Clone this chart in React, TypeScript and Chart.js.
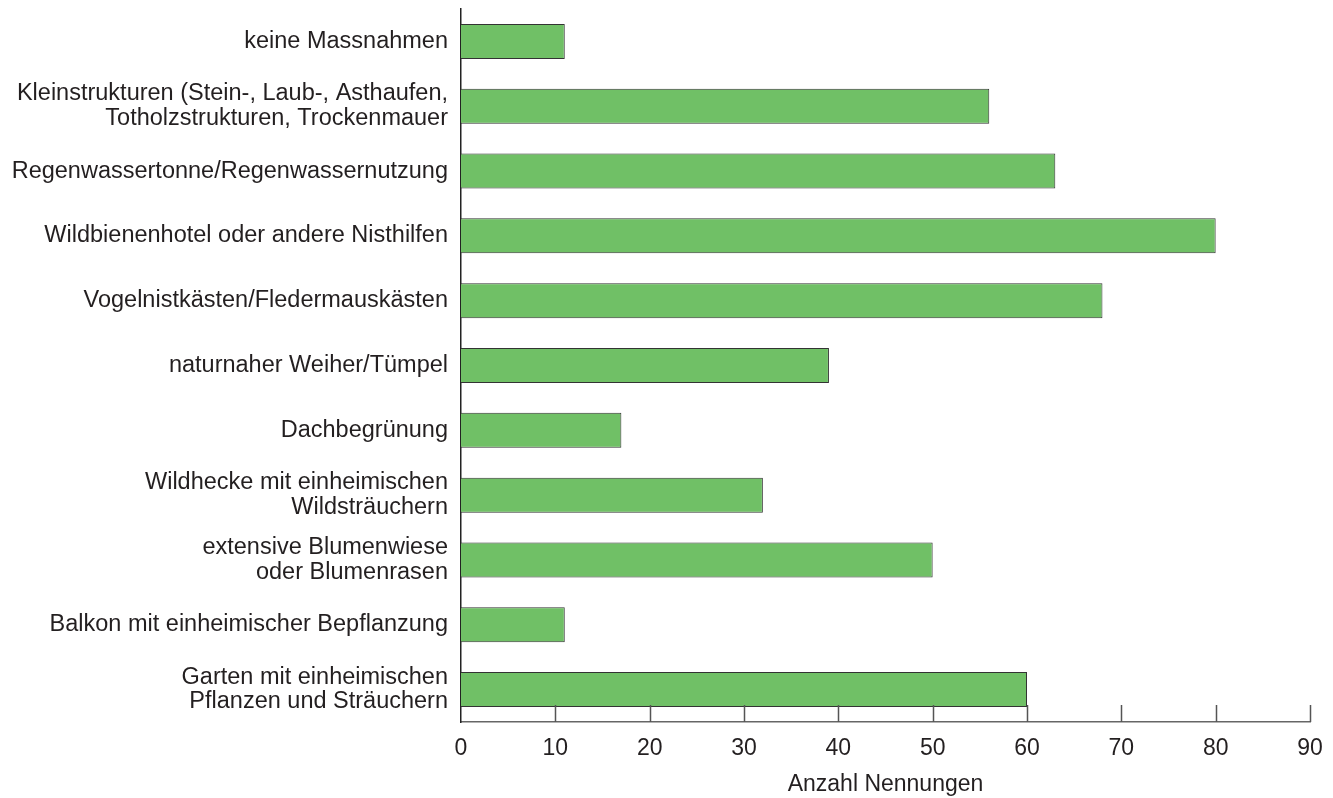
import React, { useEffect, useRef } from "react";
import { Chart, registerables } from "chart.js";

Chart.register(...registerables);

const categories: string[][] = [
  ["keine Massnahmen"],
  ["Kleinstrukturen (Stein-, Laub-, Asthaufen,", "Totholzstrukturen, Trockenmauer"],
  ["Regenwassertonne/Regenwassernutzung"],
  ["Wildbienenhotel oder andere Nisthilfen"],
  ["Vogelnistkästen/Fledermauskästen"],
  ["naturnaher Weiher/Tümpel"],
  ["Dachbegrünung"],
  ["Wildhecke mit einheimischen", "Wildsträuchern"],
  ["extensive Blumenwiese", "oder Blumenrasen"],
  ["Balkon mit einheimischer Bepflanzung"],
  ["Garten mit einheimischen", "Pflanzen und Sträuchern"],
];

const values: number[] = [11, 56, 63, 80, 68, 39, 17, 32, 50, 11, 60];

const xTicks: number[] = [0, 10, 20, 30, 40, 50, 60, 70, 80, 90];

const xTitle = "Anzahl Nennungen";

const FONT = "'Liberation Sans', Arial, sans-serif";
const TEXT = "#231f20";

const tickMarks = {
  id: "tickMarks",
  afterDatasetsDraw(chart: any) {
    const x = chart.scales.x;
    const area = chart.chartArea;
    const ctx = chart.ctx;
    ctx.save();
    ctx.strokeStyle = "#555555";
    ctx.lineWidth = 1.5;
    ctx.beginPath();
    xTicks.forEach((v) => {
      if (v === 0) return;
      const px = Math.round(x.getPixelForValue(v)) + 0.5;
      ctx.moveTo(px, area.bottom);
      ctx.lineTo(px, area.bottom - 17);
    });
    ctx.stroke();
    ctx.restore();
  },
};

export default function App() {
  const ref = useRef<HTMLCanvasElement | null>(null);

  useEffect(() => {
    if (!ref.current) return;
    const chart = new Chart(ref.current, {
      type: "bar",
      data: {
        labels: categories,
        datasets: [
          {
            data: values,
            backgroundColor: "#70c066",
            borderColor: "#333333",
            borderWidth: 1,
            categoryPercentage: 1,
            barPercentage: 0.54,
          },
        ],
      },
      plugins: [tickMarks],
      options: {
        indexAxis: "y",
        animation: false,
        responsive: false,
        maintainAspectRatio: false,
        layout: { padding: { top: 1, right: 15, bottom: 0, left: 0 } },
        plugins: {
          legend: { display: false },
          tooltip: { enabled: false },
        },
        scales: {
          x: {
            type: "linear",
            min: 0,
            max: 90,
            afterBuildTicks: (scale: any) => {
              scale.ticks = xTicks.map((v) => ({ value: v }));
            },
            afterFit: (scale: any) => {
              scale.height = 76;
              scale.paddingLeft = 0;
              scale.paddingRight = 0;
            },
            grid: { display: false, drawTicks: false },
            border: { display: true, color: "#666666", width: 1.5 },
            ticks: {
              padding: 13,
              color: TEXT,
              font: { family: FONT, size: 23 },
              maxRotation: 0,
            },
            title: {
              display: true,
              text: xTitle,
              color: TEXT,
              font: { family: FONT, size: 23 },
              padding: { top: 0, bottom: 0 },
            },
          },
          y: {
            afterFit: (scale: any) => {
              scale.width = 453;
              scale.paddingTop = 0;
              scale.paddingBottom = 0;
            },
            grid: { display: false, drawTicks: false },
            border: { display: true, color: "#222222", width: 1.5 },
            ticks: {
              padding: 13,
              color: TEXT,
              font: { family: FONT, size: 23.5, lineHeight: 1.04 },
              autoSkip: false,
            },
          },
        },
      },
    });
    return () => chart.destroy();
  }, []);

  return (
    <div style={{ width: 1317, height: 790 }}>
      <canvas ref={ref} width={1317} height={790} style={{ display: "block" }} />
    </div>
  );
}
